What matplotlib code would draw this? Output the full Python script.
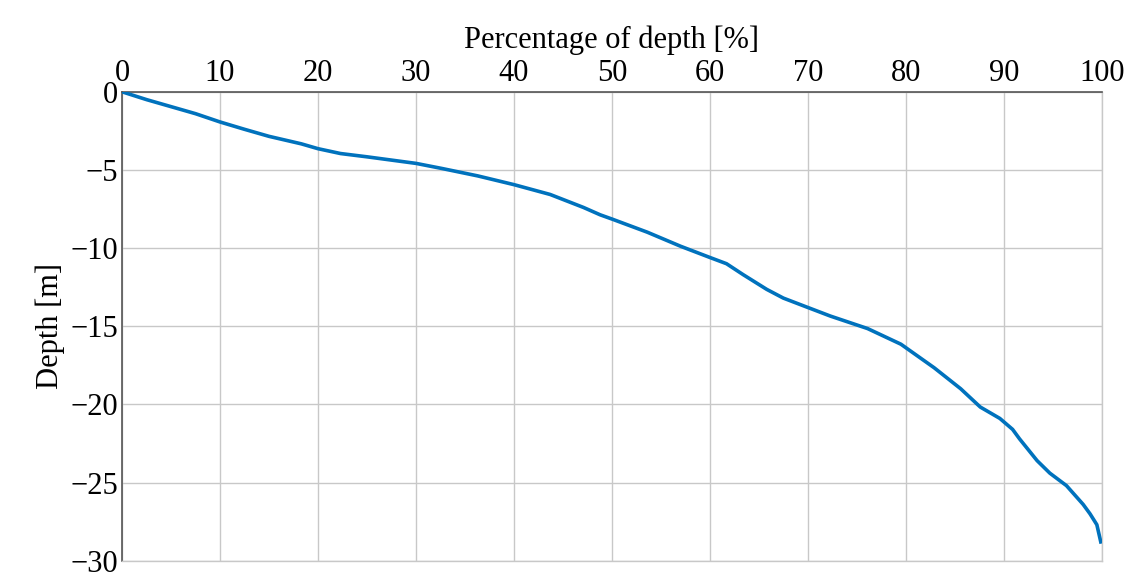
import numpy as np
import matplotlib.pyplot as plt

# percentage of depth [%] and depth [m]
pct = [0, 2.5, 5, 7.5, 10, 12.5, 15, 18.3, 20, 22.3, 25, 30, 32.6, 36.3, 40,
       43.7, 47.1, 48.8, 50, 53.6, 57, 60, 61.7, 63.4, 65.8, 67.5, 70, 72.3,
       76.1, 79.5, 82.9, 85.6, 87.6, 89.6, 90.9, 91.6, 93.4, 94.7, 96.4,
       98.1, 98.8, 99.5, 99.9]
depth = [0, -0.5, -0.95, -1.4, -1.93, -2.4, -2.85, -3.33, -3.64, -3.95,
         -4.16, -4.58, -4.9, -5.38, -5.94, -6.57, -7.4, -7.87, -8.14, -8.98,
         -9.88, -10.6, -11.0, -11.7, -12.64, -13.2, -13.8, -14.35, -15.15,
         -16.15, -17.66, -19.0, -20.17, -20.9, -21.6, -22.2, -23.6, -24.4,
         -25.2, -26.4, -27.0, -27.7, -28.8]

plt.rcParams['font.family'] = ['Liberation Serif', 'DejaVu Serif']
plt.rcParams['font.size'] = 22

fig = plt.figure(figsize=(11.3, 5.81), dpi=100)
ax = fig.add_axes([0.108, 0.035, 0.867, 0.807])

ax.plot(pct, depth, color='#0072BD', linewidth=2.6, zorder=3)

ax.set_xlim(0, 100)
ax.set_ylim(-30, 0)
ax.set_xticks(np.arange(0, 101, 10))
ax.set_yticks(np.arange(-30, 1, 5))
ax.xaxis.tick_top()
ax.xaxis.set_label_position('top')
ax.tick_params(length=0, pad=3)
ax.grid(True, color='#c8c8c8', linewidth=1)
ax.set_axisbelow(True)

for s in ['top', 'left']:
    ax.spines[s].set_color('#555555')
    ax.spines[s].set_linewidth(1.2)
for s in ['bottom', 'right']:
    ax.spines[s].set_color('#c8c8c8')
    ax.spines[s].set_linewidth(1)

ax.set_xlabel('Percentage of depth [%]', labelpad=8)
ax.set_ylabel('Depth [m]', labelpad=4)

fig.savefig('out.png', dpi=100)
